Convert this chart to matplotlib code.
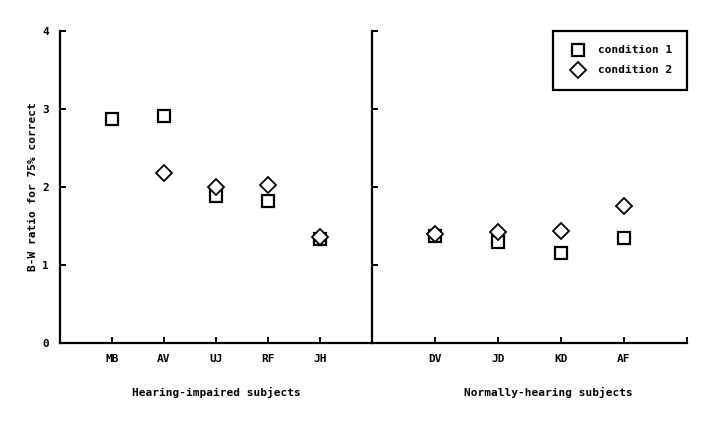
import matplotlib
matplotlib.use('Agg')
import matplotlib.pyplot as plt
import numpy as np

# Subjects and B-W ratios
impaired = ['MB', 'AV', 'UJ', 'RF', 'JH']
impaired_c1 = [2.87, 2.91, 1.88, 1.82, 1.33]
impaired_c2 = [np.nan, 2.18, 2.00, 2.03, 1.36]

normal = ['DV', 'JD', 'KD', 'AF']
normal_c1 = [1.37, 1.30, 1.16, 1.34]
normal_c2 = [1.40, 1.42, 1.43, 1.75]

plt.rcParams['font.family'] = 'DejaVu Sans Mono'
plt.rcParams['font.weight'] = 'bold'
plt.rcParams['axes.labelweight'] = 'bold'
plt.rcParams['font.size'] = 8

fig = plt.figure(figsize=(7.14, 4.23), dpi=100)
W, H = 714, 423
ax1 = fig.add_axes([60 / W, 80 / H, 312 / W, 312 / H])
ax2 = fig.add_axes([372 / W, 80 / H, 315 / W, 312 / H])

sq = dict(marker='s', ms=8.5, mfc='white', mec='black', mew=1.6, ls='none')
dm = dict(marker='D', ms=8, mfc='white', mec='black', mew=1.3, ls='none')

x1 = np.arange(1, len(impaired) + 1)
ax1.plot(x1, impaired_c1, **sq)
ax1.plot(x1, impaired_c2, **dm)

x2 = np.arange(1, len(normal) + 1)
ax2.plot(x2, normal_c1, label='condition 1', **sq)
ax2.plot(x2, normal_c2, label='condition 2', **dm)

for ax in (ax1, ax2):
    ax.set_ylim(0, 4)
    ax.set_yticks([0, 1, 2, 3, 4])
    ax.spines['top'].set_visible(False)
    ax.spines['right'].set_visible(False)
    ax.spines['left'].set_linewidth(1.6)
    ax.spines['bottom'].set_linewidth(1.6)
    ax.tick_params(direction='in', length=4, width=1.4, pad=8)
    ax.patch.set_alpha(0)

ax1.set_xlim(0, 6)
ax1.set_xticks(x1)
ax1.set_xticklabels(impaired)
ax1.set_ylabel('B-W ratio for 75% correct', labelpad=3)
ax1.set_xlabel('Hearing-impaired subjects')
ax1.xaxis.set_label_coords(0.5, -0.14)

ax2.set_xlim(0, 5)
ax2.set_xticks([1, 2, 3, 4, 5])
ax2.set_xticklabels(normal + [''])
ax2.set_yticklabels([])
ax2.set_xlabel('Normally-hearing subjects')
ax2.xaxis.set_label_coords(0.559, -0.14)

leg = ax2.legend(loc='upper right', borderaxespad=0, fancybox=False,
                 edgecolor='black', framealpha=1, handletextpad=0.8,
                 borderpad=1.3, labelspacing=0.9)
leg.get_frame().set_linewidth(1.6)

plt.savefig('out.png', dpi=100)
